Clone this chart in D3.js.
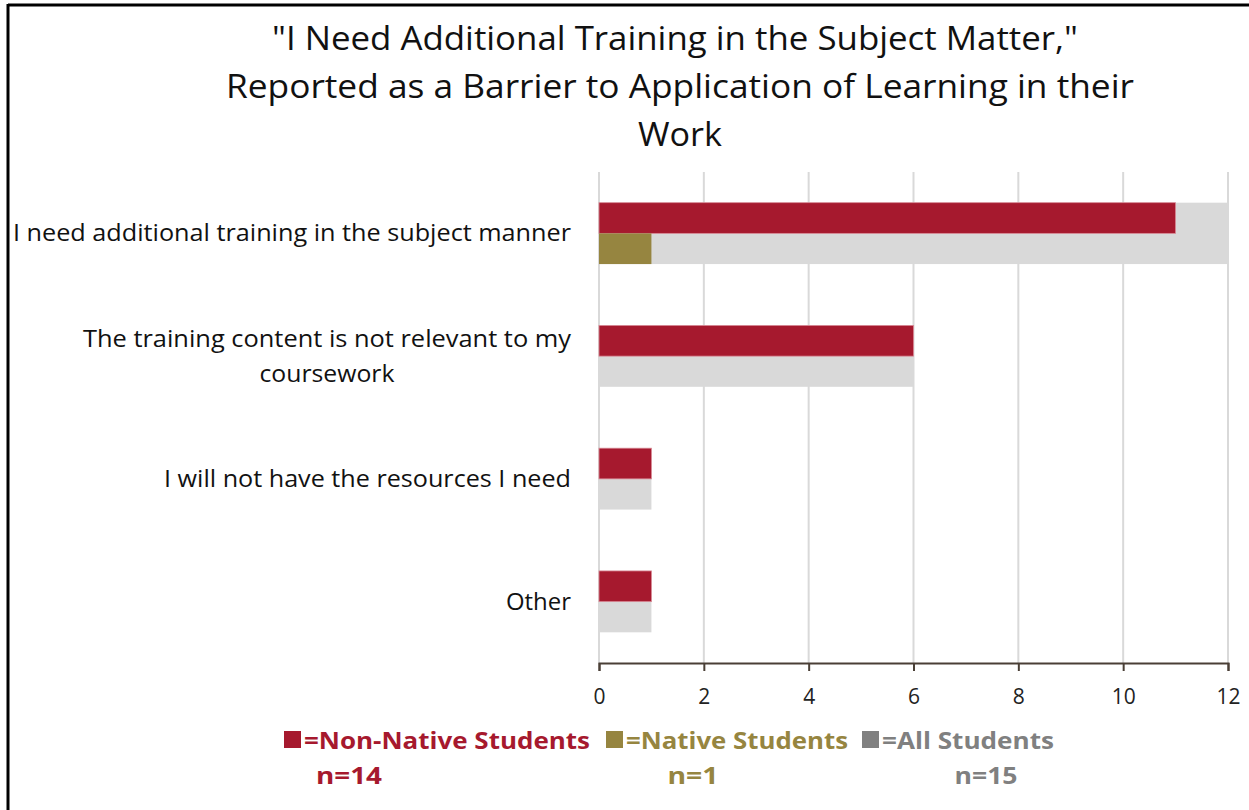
<!DOCTYPE html>
<html>
<head>
<meta charset="utf-8">
<script src="https://cdn.jsdelivr.net/npm/d3@7"></script>
<style>
  html, body { margin: 0; padding: 0; background: #fff; }
  svg { display: block; }
</style>
</head>
<body>
<svg id="chart" width="1249" height="810"></svg>
<script>
// Barrier categories (top to bottom)
const categories = [
  "I need additional training in the subject manner",
  "The training content is not relevant to my coursework",
  "I will not have the resources I need",
  "Other"
];
// Label lines for wrapped category names
const categoryLines = [
  ["I need additional training in the subject manner"],
  ["The training content is not relevant to my", "coursework"],
  ["I will not have the resources I need"],
  ["Other"]
];
const allStudents = [12, 6, 1, 1];
const nonNative = [11, 6, 1, 1];
const native = [1, 0, 0, 0];
const xTicks = [0, 2, 4, 6, 8, 10, 12];
const titleLines = [
  "\"I Need Additional Training in the Subject Matter,\"",
  "Reported as a Barrier to Application of Learning in their",
  "Work"
];
const legendItems = [
  { label: "=Non-Native Students", n: "n=14" },
  { label: "=Native Students", n: "n=1" },
  { label: "=All Students", n: "n=15" }
];

const colors = { nonNative: "#A6192E", native: "#968540", all: "#D9D9D9", allLegend: "#808080" };

const svg = d3.select("#chart");

// Frame lines along the top and left edges
svg.append("line").attr("x1", 8).attr("x2", 1249).attr("y1", 5).attr("y2", 5)
  .attr("stroke", "#000").attr("stroke-width", 3);
svg.append("line").attr("x1", 8).attr("x2", 8).attr("y1", 4).attr("y2", 810)
  .attr("stroke", "#000").attr("stroke-width", 3);

// Title
const titleX = [675, 680, 680];
const titleW = [806, 908, 84];
const titleY = [50, 98, 146];
titleLines.forEach((t, i) => {
  svg.append("text")
    .attr("x", titleX[i]).attr("y", titleY[i])
    .attr("text-anchor", "middle")
    .attr("font-family", "'Open Sans', 'Noto Sans', sans-serif")
    .attr("font-weight", 400)
    .attr("font-size", 33)
    .attr("fill", "#111")
    .attr("textLength", titleW[i])
    .attr("lengthAdjust", "spacingAndGlyphs")
    .text(t);
});

// Scales
const x = d3.scaleLinear().domain([0, 12]).range([599, 1228]);
const y = d3.scaleBand().domain(categories).range([172, 663])
  .paddingInner(0.5).paddingOuter(0.25);

// Vertical gridlines
svg.append("g").selectAll("line").data(xTicks).join("line")
  .attr("x1", d => x(d)).attr("x2", d => x(d))
  .attr("y1", 172).attr("y2", 663)
  .attr("stroke", "#D9D9D9").attr("stroke-width", 2);

// All students: full band
const bw = y.bandwidth();
svg.append("g").selectAll("rect").data(categories).join("rect")
  .attr("x", x(0)).attr("y", d => y(d))
  .attr("width", (d, i) => x(allStudents[i]) - x(0))
  .attr("height", bw)
  .attr("fill", colors.all);

// Non-native students: upper half of band
svg.append("g").selectAll("rect").data(categories).join("rect")
  .attr("x", x(0)).attr("y", d => y(d))
  .attr("width", (d, i) => x(nonNative[i]) - x(0))
  .attr("height", bw / 2)
  .attr("fill", colors.nonNative)
  .attr("stroke", "#D98A96").attr("stroke-width", 0.8);

// Native students: lower half of band
svg.append("g").selectAll("rect").data(categories.filter((d, i) => native[i] > 0)).join("rect")
  .attr("x", x(0)).attr("y", d => y(d) + bw / 2)
  .attr("width", d => x(native[categories.indexOf(d)]) - x(0))
  .attr("height", bw / 2)
  .attr("fill", colors.native);

// X axis
const xAxis = d3.axisBottom(x).tickValues(xTicks).tickSize(8).tickSizeOuter(8).tickFormat(d3.format("d"));
const gx = svg.append("g").attr("transform", "translate(0,663)").call(xAxis);
gx.select(".domain").attr("stroke", "#4A3F36").attr("stroke-width", 2);
gx.selectAll(".tick line").attr("stroke", "#4A3F36").attr("stroke-width", 2);
gx.selectAll(".tick text")
  .attr("font-family", "'Open Sans', 'Noto Sans', sans-serif")
  .attr("font-size", 21)
  .attr("fill", "#222")
  .attr("dy", null)
  .attr("y", 41);

// Category labels (line widths keep the narrow label face)
const lineWidths = [[558], [488, 135], [407], [65]];
const labelG = svg.append("g")
  .attr("font-family", "'Open Sans', 'Noto Sans', sans-serif")
  .attr("font-size", 23.5)
  .attr("fill", "#111");
categories.forEach((c, i) => {
  const lines = categoryLines[i];
  const cy = y(c) + bw / 2;
  const lh = 35;
  const top = cy - (lines.length - 1) * lh / 2 + 8;
  const w0 = lineWidths[i][0];
  labelG.append("text").attr("x", 571).attr("y", top)
    .attr("text-anchor", "end")
    .attr("textLength", w0).attr("lengthAdjust", "spacingAndGlyphs")
    .text(lines[0]);
  // Further lines are centred under the first line
  lines.slice(1).forEach((ln, k) => {
    labelG.append("text").attr("x", 571 - w0 / 2).attr("y", top + lh * (k + 1))
      .attr("text-anchor", "middle")
      .attr("textLength", lineWidths[i][k + 1]).attr("lengthAdjust", "spacingAndGlyphs")
      .text(ln);
  });
});

// Legend
const legendFill = [colors.nonNative, colors.native, colors.allLegend];
const sqX = [284, 606, 862];
const lblW = [286, 222, 172];
const nX = [349, 693, 986];
const nW = [66, 51, 63];
const legend = svg.append("g")
  .attr("font-family", "'Liberation Sans Narrow', 'Open Sans', sans-serif")
  .attr("font-weight", "bold")
  .attr("font-size", 24);
legendItems.forEach((item, i) => {
  legend.append("rect").attr("x", sqX[i]).attr("y", 731).attr("width", 17).attr("height", 17)
    .attr("fill", legendFill[i]);
  legend.append("text").attr("x", sqX[i] + 20).attr("y", 749)
    .attr("fill", legendFill[i])
    .attr("textLength", lblW[i]).attr("lengthAdjust", "spacingAndGlyphs")
    .text(item.label);
  legend.append("text").attr("x", nX[i]).attr("y", 784)
    .attr("text-anchor", "middle")
    .attr("fill", legendFill[i])
    .attr("textLength", nW[i]).attr("lengthAdjust", "spacingAndGlyphs")
    .text(item.n);
});
</script>
</body>
</html>
